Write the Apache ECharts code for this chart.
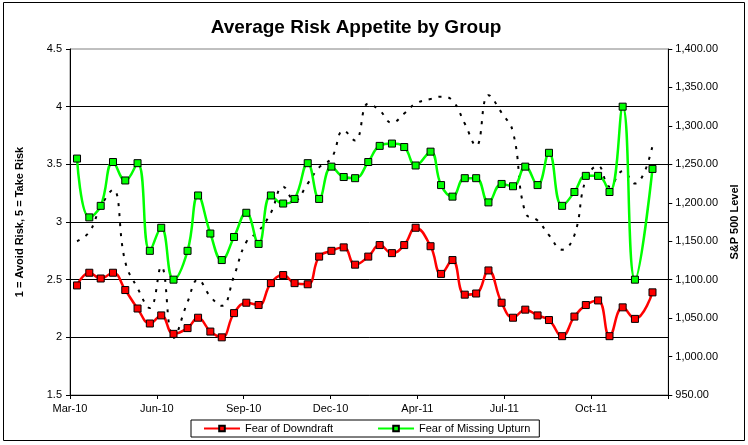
<!DOCTYPE html>
<html>
<head>
<meta charset="utf-8">
<script src="https://cdn.jsdelivr.net/npm/echarts@6/dist/echarts.min.js"></script>
<style>
html,body{margin:0;padding:0;background:#fff;}
#c{width:748px;height:445px;}
</style>
</head>
<body>
<div id="c"></div>
<script>
// ---- data ----
var ORIGIN = '2010-03-08';
var TICK_DAYS = 99;
var tickLabels = ['Mar-10','Jun-10','Sep-10','Dec-10','Apr-11','Jul-11','Oct-11'];
var dates = ['2010-03-16','2010-03-30','2010-04-12','2010-04-26','2010-05-10','2010-05-24','2010-06-07','2010-06-20',
  '2010-07-04','2010-07-20','2010-08-01','2010-08-15','2010-08-28','2010-09-11','2010-09-25','2010-10-09',
  '2010-10-23','2010-11-06','2010-11-19','2010-12-04','2010-12-17','2010-12-31','2011-01-14','2011-01-27',
  '2011-02-11','2011-02-24','2011-03-10','2011-03-24','2011-04-06','2011-04-23','2011-05-05','2011-05-18',
  '2011-06-01','2011-06-14','2011-06-28','2011-07-13','2011-07-26','2011-08-09','2011-08-23','2011-09-05',
  '2011-09-20','2011-10-04','2011-10-17','2011-10-31','2011-11-13','2011-11-28','2011-12-12','2012-01-01'];
var fearOfDowndraft = [2.45,2.56,2.51,2.56,2.41,2.25,2.12,2.19,2.03,2.08,2.17,2.05,2.00,2.21,2.30,2.28,
  2.47,2.54,2.47,2.46,2.70,2.75,2.78,2.63,2.70,2.80,2.73,2.80,2.95,2.79,2.55,2.67,
  2.37,2.38,2.58,2.30,2.17,2.24,2.19,2.15,2.01,2.18,2.28,2.32,2.01,2.26,2.16,2.39];
var fearOfMissingUpturn = [3.55,3.04,3.14,3.52,3.36,3.51,2.75,2.95,2.50,2.75,3.23,2.90,2.67,2.87,3.08,2.81,
  3.23,3.16,3.20,3.51,3.20,3.48,3.39,3.38,3.52,3.66,3.68,3.65,3.49,3.61,3.32,3.22,
  3.38,3.38,3.17,3.33,3.31,3.48,3.32,3.60,3.14,3.26,3.40,3.40,3.26,4.00,2.50,3.46];
var sp500 = [1150,1162,1195,1217,1123,1089,1063,1117,1024,1071,1100,1078,1066,1105,1149,1163,
  1187,1221,1203,1225,1246,1258,1294,1281,1329,1320,1304,1316,1329,1335,1338,1333,
  1303,1274,1340,1317,1292,1187,1177,1158,1139,1158,1230,1248,1221,1241,1225,1274];
var X_MAX_DAYS = 682;

// ---- build ----
function dayOf(s){ return Math.round((new Date(s) - new Date(ORIGIN)) / 864e5); }
var xs = dates.map(dayOf);
function pairs(vals){ return vals.map(function(v,i){ return [xs[i], v]; }); }
function fmtMoney(v){
  var s = v.toFixed(2), p = s.split('.');
  p[0] = p[0].replace(/\B(?=(\d{3})+(?!\d))/g, ',');
  return p.join('.');
}
var FONT = 'Liberation Sans, Arial, sans-serif';
var chart = echarts.init(document.getElementById('c'), null, {renderer:'canvas'});
chart.setOption({
  animation: false,
  backgroundColor: '#fff',
  textStyle: {fontFamily: FONT, color:'#000'},
  title: {
    text: 'Average Risk Appetite by Group',
    left: 351, top: 13, textAlign: 'center',
    textStyle: {fontFamily: FONT, fontSize: 19, fontWeight: 'bold', color: '#000'}
  },
  graphic: [{
    type: 'rect', silent: true, z: -1,
    shape: {x: 3.5, y: 2.5, width: 741, height: 438},
    style: {fill: 'none', stroke: '#000', lineWidth: 1}
  }],
  legend: {
    left: 191, top: 420,
    padding: [3, 9, 3, 12],
    itemGap: 44, itemWidth: 36, itemHeight: 7,
    borderColor: '#000', borderWidth: 1,
    data: ['Fear of Downdraft', 'Fear of Missing Upturn'],
    textStyle: {fontFamily: FONT, fontSize: 11, color: '#000'}
  },
  grid: {left: 70, right: 77, top: 49, bottom: 50, show: true, borderColor: '#808080', borderWidth: 1, backgroundColor: '#fff'},
  xAxis: {
    type: 'value', min: 0, max: X_MAX_DAYS, interval: TICK_DAYS,
    axisLine: {show: true, lineStyle: {color: '#000', width: 1}},
    axisTick: {show: true, length: 4, lineStyle: {color: '#000'}},
    splitLine: {show: false},
    axisLabel: {
      margin: 8, fontSize: 11, color: '#000', fontFamily: FONT,
      formatter: function(v){ return (v % TICK_DAYS === 0 && tickLabels[v / TICK_DAYS]) || ''; }
    }
  },
  yAxis: [{
    type: 'value', min: 1.5, max: 4.5, interval: 0.5, position: 'left',
    name: '1 = Avoid Risk, 5 = Take Risk', nameLocation: 'middle', nameGap: 45, nameRotate: 90,
    nameTextStyle: {fontFamily: FONT, fontSize: 11, fontWeight: 'bold', color: '#000'},
    axisLine: {show: true, lineStyle: {color: '#000', width: 1}},
    axisTick: {show: true, length: 4, lineStyle: {color: '#000'}},
    axisLabel: {margin: 8, fontSize: 11, color: '#000', fontFamily: FONT},
    splitLine: {show: true, showMinLine: false, showMaxLine: false, lineStyle: {color: '#000', width: 1}}
  }, {
    type: 'value', min: 950, max: 1400, interval: 50, position: 'right',
    name: 'S&P 500 Level', nameLocation: 'middle', nameGap: 58, nameRotate: 90,
    nameTextStyle: {fontFamily: FONT, fontSize: 11, fontWeight: 'bold', color: '#000'},
    axisLine: {show: true, lineStyle: {color: '#000', width: 1}},
    axisTick: {show: true, length: 4, lineStyle: {color: '#000'}},
    axisLabel: {margin: 7, fontSize: 11, color: '#000', fontFamily: FONT, formatter: fmtMoney},
    splitLine: {show: false}
  }],
  series: [{
    name: 'S&P 500', type: 'line', yAxisIndex: 1, smooth: 0.45,
    showSymbol: false, symbol: 'none',
    lineStyle: {color: '#000', width: 2, type: [3, 7]},
    data: pairs(sp500), z: 2
  }, {
    name: 'Fear of Downdraft', type: 'line', yAxisIndex: 0, smooth: 0.45,
    symbol: 'rect', symbolSize: 7,
    lineStyle: {color: '#FF0000', width: 2.5},
    itemStyle: {color: '#FF0000', borderColor: '#000', borderWidth: 1},
    data: pairs(fearOfDowndraft), z: 3
  }, {
    name: 'Fear of Missing Upturn', type: 'line', yAxisIndex: 0, smooth: 0.45,
    symbol: 'rect', symbolSize: 7,
    lineStyle: {color: '#00FF00', width: 2.5},
    itemStyle: {color: '#00FF00', borderColor: '#000', borderWidth: 1},
    data: pairs(fearOfMissingUpturn), z: 4
  }]
});
</script>
</body>
</html>
